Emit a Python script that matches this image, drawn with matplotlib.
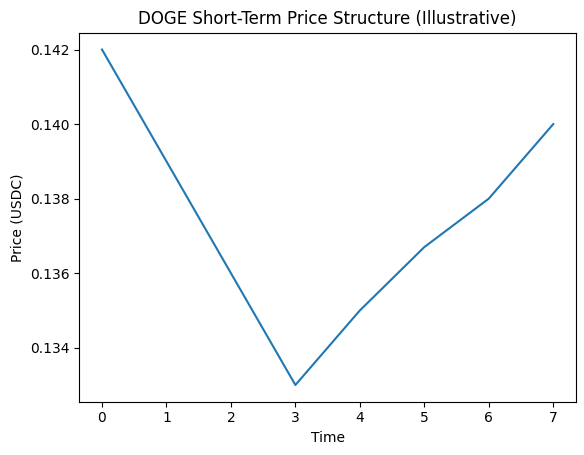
import matplotlib
matplotlib.use("Agg")
import matplotlib.pyplot as plt

# data
time = [0, 1, 2, 3, 4, 5, 6, 7]
price = [0.142, 0.139, 0.136, 0.133, 0.135, 0.1367, 0.138, 0.140]

fig, ax = plt.subplots(figsize=(5.84, 4.55), dpi=100)
ax.plot(time, price)
ax.set_title("DOGE Short-Term Price Structure (Illustrative)")
ax.set_xlabel("Time")
ax.set_ylabel("Price (USDC)")
fig.subplots_adjust(left=0.136, right=0.986, top=0.928, bottom=0.117)
fig.savefig("out.png")
